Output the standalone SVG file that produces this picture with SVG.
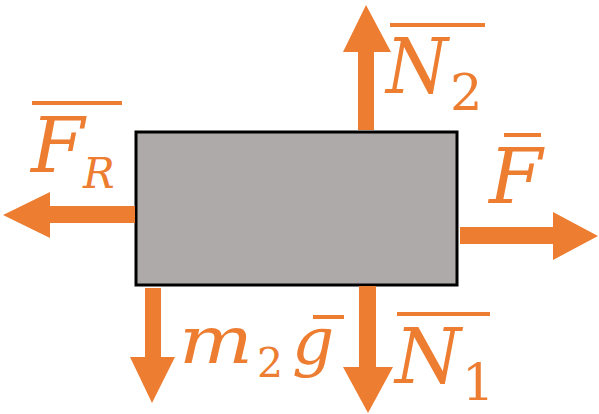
<svg xmlns="http://www.w3.org/2000/svg" width="599" height="414" viewBox="0 0 599 414">
<style>
.arrow{fill:#ED7D31}
.t{fill:#ED7D31;font-family:"DejaVu Serif",serif;font-style:italic}
.d{fill:#ED7D31;font-family:"DejaVu Serif",serif}
.bar{stroke:#ED7D31;stroke-width:4}
</style>
<rect width="599" height="414" fill="#fff"/>
<g id="block">
<rect x="136" y="132" width="321" height="153" fill="#ADAAA9" stroke="#000" stroke-width="3"/>
</g>
<g id="connectors">
<polygon class="arrow" points="135,206 50,206 50,192 3,215 50,238 50,223 135,223"/>
<polygon class="arrow" points="358,130 358,52 343,52 366,5 391,52 374,52 374,130"/>
<polygon class="arrow" points="460,227 553,227 553,212 598,236 553,260 553,244 460,244"/>
<polygon class="arrow" points="145,288 145,357 130,357 152,403 175,357 161,357 161,288"/>
<polygon class="arrow" points="359,286 359,367 343,367 368,413 393,367 376,367 376,286"/>
</g>
<g id="label-FR">
<line class="bar" x1="32" y1="103" x2="122" y2="103"/>
<text class="t" x="31" y="172" font-size="77">F</text>
<text class="t" x="83" y="188" font-size="42">R</text>
</g>
<g id="label-N2">
<line class="bar" x1="390" y1="25" x2="485" y2="25"/>
<text class="t" x="386" y="93" font-size="77" textLength="62" lengthAdjust="spacingAndGlyphs">N</text>
<text class="d" x="450" y="110" font-size="51">2</text>
</g>
<g id="label-F">
<line class="bar" x1="504" y1="135" x2="541" y2="135"/>
<text class="t" x="489" y="203" font-size="77">F</text>
</g>
<g id="label-m2g">
<text class="t" x="179" y="363" font-size="66" textLength="74" lengthAdjust="spacingAndGlyphs">m</text>
<text class="d" x="257" y="377" font-size="41">2</text>
<text class="t" x="292" y="363" font-size="66">g</text>
<line class="bar" x1="313" y1="317" x2="344" y2="317"/>
</g>
<g id="label-N1">
<line class="bar" x1="397" y1="314" x2="490" y2="314"/>
<text class="t" x="395" y="383" font-size="77" textLength="66" lengthAdjust="spacingAndGlyphs">N</text>
<text class="d" x="462" y="400" font-size="51">1</text>
</g>
</svg>
